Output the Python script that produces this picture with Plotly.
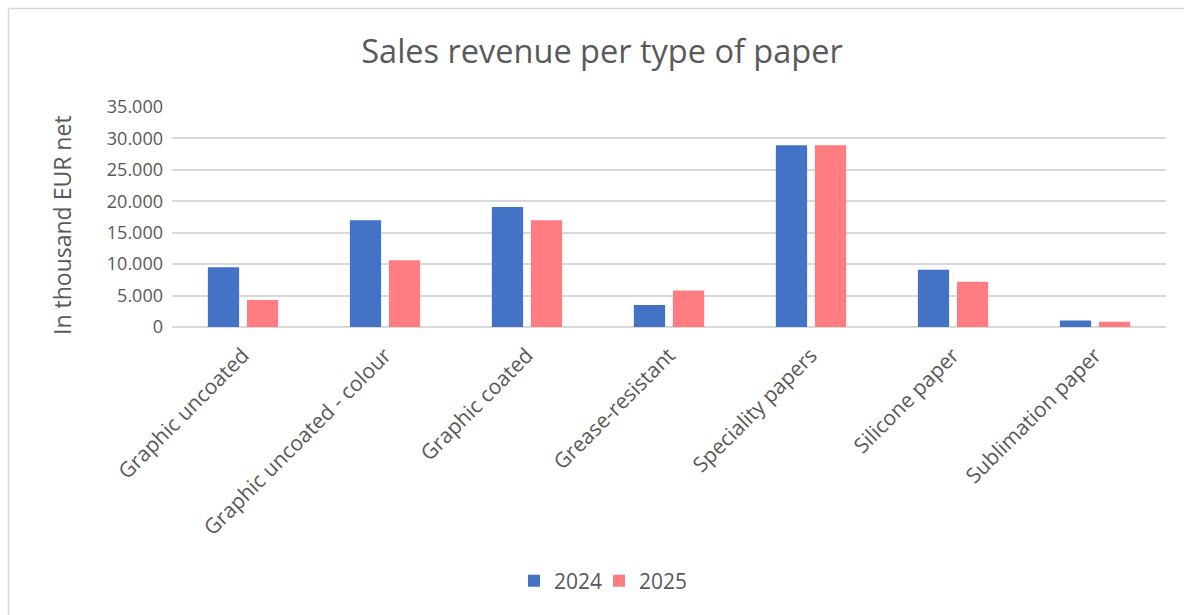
import plotly.graph_objects as go

categories = ["Graphic uncoated", "Graphic uncoated - colour", "Graphic coated",
              "Grease-resistant", "Speciality papers", "Silicone paper", "Sublimation paper"]
rev_2024 = [9500, 17000, 19100, 3500, 28900, 9100, 1050]
rev_2025 = [4300, 10600, 17000, 5800, 28900, 7200, 850]
y_ticks = [0, 5000, 10000, 15000, 20000, 25000, 30000, 35000]

FONT = "Open Sans"
GREY = "#595959"
FRAME = "#D9D9D9"

fig = go.Figure()
fig.add_trace(go.Bar(name="2024", x=categories, y=rev_2024, marker_color="#4472C4",
                     marker_line_width=0))
fig.add_trace(go.Bar(name="2025", x=categories, y=rev_2025, marker_color="#FF7C80",
                     marker_line_width=0))
# empty legend spacer so the last real legend label is not clipped
fig.add_trace(go.Scatter(x=[None], y=[None], mode="none", name=" ",
                         showlegend=True, hoverinfo="skip"))

W, H = 1184, 615
L, R, T, B = 172, 18, 107, 288
PW, PH = W - L - R, H - T - B

fig.update_layout(
    width=W, height=H,
    margin=dict(l=L, r=R, t=T, b=B, pad=0),
    paper_bgcolor="white", plot_bgcolor="white",
    separators=",.",
    barmode="group", bargap=0.45, bargroupgap=0.2,
    font=dict(family=FONT, color=GREY, size=18),
    title=dict(text="Sales revenue per type of paper", xref="container", x=602 / W,
               xanchor="center", yref="container", y=1 - 52 / H, yanchor="middle",
               font=dict(family=FONT, size=32.5, color=GREY)),
    legend=dict(orientation="h", xref="container", x=514 / W, xanchor="left",
                yref="container", y=1 - 581 / H, yanchor="middle",
                font=dict(family=FONT, size=21, color=GREY),
                itemwidth=30, entrywidth=40, entrywidthmode="pixels",
                traceorder="normal"),
    xaxis=dict(tickangle=-45, showgrid=False, showline=False, ticks="",
               ticklabelstandoff=11,
               tickfont=dict(family=FONT, size=21, color=GREY)),
    yaxis=dict(range=[0, 35000], tickvals=y_ticks, tickformat=",.0f",
               showgrid=True, gridcolor="#D9D9D9", gridwidth=1.5,
               zeroline=True, zerolinecolor="#D9D9D9", zerolinewidth=1.5,
               showline=False, ticks="", ticklen=0, ticklabelstandoff=8,
               tickfont=dict(family=FONT, size=18, color=GREY)),
    annotations=[dict(text="In thousand EUR net", textangle=-90,
                      xref="paper", yref="paper", x=(62 - L) / PW, y=0.5 - 8 / PH,
                      xanchor="center", yanchor="middle", showarrow=False,
                      font=dict(family=FONT, size=23, color=GREY))],
)

# outer chart frame (light grey): only top and left edges are visible
fx, fy = 8.5, 8.5
fig.add_shape(type="line", xref="paper", yref="paper",
              xsizemode="pixel", ysizemode="pixel", xanchor=0, yanchor=1,
              x0=fx - L, x1=W - L, y0=T - fy, y1=T - fy,
              line=dict(color=FRAME, width=1.5), layer="below")
fig.add_shape(type="line", xref="paper", yref="paper",
              xsizemode="pixel", ysizemode="pixel", xanchor=0, yanchor=1,
              x0=fx - L, x1=fx - L, y0=T - fy, y1=-(H - T),
              line=dict(color=FRAME, width=1.5), layer="below")

# remove the default page margin so the figure fills the window exactly
fig.write_html(
    "out.html",
    config={"displayModeBar": False},
    post_script="document.body.style.margin='0';"
                "document.documentElement.style.overflow='hidden';"
                "document.body.style.overflow='hidden';",
)
